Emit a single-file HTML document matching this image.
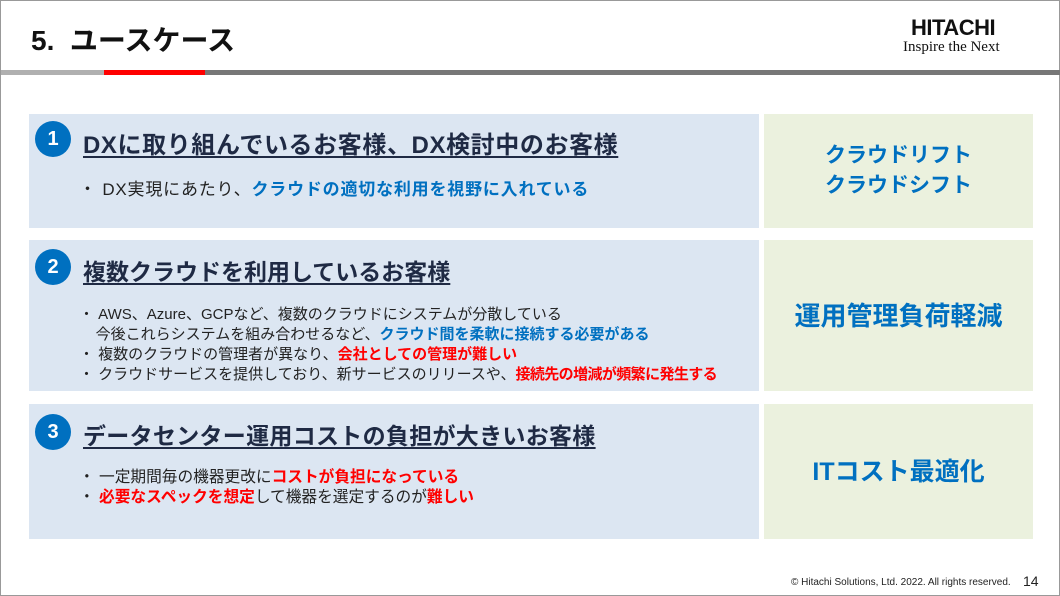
<!DOCTYPE html>
<html><head><meta charset="utf-8"><style>
*{margin:0;padding:0;box-sizing:border-box}
body{width:1060px;height:596px;background:#fff;position:relative;overflow:hidden;font-family:"Liberation Sans","Noto Sans CJK JP",sans-serif;border:1px solid #999}
.abs{position:absolute}
.lb{background:#dce6f2;left:28px;width:730px}
.rb{background:#ebf1de;left:763px;width:269px;display:flex;align-items:center;justify-content:center;text-align:center;color:#0070c0;font-weight:bold;font-size:24px;line-height:30px}
.c{width:36px;height:36px;border-radius:50%;background:#0070c0;color:#fff;font-weight:bold;font-size:20px;display:flex;align-items:center;justify-content:center;left:34px}
.t{left:82px;font-size:23px;font-weight:bold;color:#1f2a44;text-decoration:underline;text-decoration-thickness:2px;text-underline-offset:3px;white-space:nowrap}
.b{left:78px;font-size:15px;color:#222;line-height:20px;white-space:nowrap}
.bl{color:#0070c0;font-weight:bold}.rd{color:#ff0000;font-weight:bold}
</style></head><body>
<div class="abs" style="left:30px;top:18px;font-size:28px;font-weight:bold;color:#111">5.&nbsp;&nbsp;ユースケース</div>
<div class="abs" style="left:910px;top:14px;font-size:22px;font-weight:bold;color:#111;letter-spacing:-0.5px">HITACHI</div>
<div class="abs" style="left:902px;top:38px;font-size:15px;color:#111;font-family:'Liberation Serif',serif">Inspire the Next</div>
<div class="abs" style="left:0;top:69px;width:1060px;height:5px;background:#777"></div>
<div class="abs" style="left:0;top:69px;width:103px;height:5px;background:#b0b0b0"></div>
<div class="abs" style="left:103px;top:69px;width:101px;height:5px;background:#ff0000"></div>

<div class="abs lb" style="top:113px;height:114px"></div>
<div class="abs rb" style="top:113px;height:114px;font-size:21px">クラウドリフト<br>クラウドシフト</div>
<div class="abs c" style="top:120px">1</div>
<div class="abs t" style="top:124px;font-size:24px;letter-spacing:0.6px">DXに取り組んでいるお客様、DX検討中のお客様</div>
<div class="abs b" style="top:179px;font-size:17px;letter-spacing:0.8px">・ DX実現にあたり、<span class="bl">クラウドの適切な利用を視野に入れている</span></div>

<div class="abs lb" style="top:239px;height:151px"></div>
<div class="abs rb" style="top:239px;height:151px;font-size:26px">運用管理負荷軽減</div>
<div class="abs c" style="top:248px">2</div>
<div class="abs t" style="top:252px">複数クラウドを利用しているお客様</div>
<div class="abs b" style="top:304px">・ AWS、Azure、GCPなど、複数のクラウドにシステムが分散している<br>&nbsp;&nbsp;&nbsp;&nbsp;今後これらシステムを組み合わせるなど、<span class="bl">クラウド間を柔軟に接続する必要がある</span><br>・ 複数のクラウドの管理者が異なり、<span class="rd">会社としての管理が難しい</span><br>・ クラウドサービスを提供しており、新サービスのリリースや、<span class="rd" style="letter-spacing:-0.6px">接続先の増減が頻繁に発生する</span></div>

<div class="abs lb" style="top:403px;height:135px"></div>
<div class="abs rb" style="top:403px;height:135px;font-size:25px">ITコスト最適化</div>
<div class="abs c" style="top:413px">3</div>
<div class="abs t" style="top:416px;letter-spacing:0.3px">データセンター運用コストの負担が大きいお客様</div>
<div class="abs b" style="top:467px;font-size:15.7px">・ 一定期間毎の機器更改に<span class="rd">コストが負担になっている</span><br>・ <span class="rd">必要なスペックを想定</span>して機器を選定するのが<span class="rd">難しい</span></div>

<div class="abs" style="left:790px;top:576px;font-size:10px;color:#222">© Hitachi Solutions, Ltd. 2022. All rights reserved.</div>
<div class="abs" style="left:1022px;top:572px;font-size:14px;color:#222">14</div>
</body></html>
